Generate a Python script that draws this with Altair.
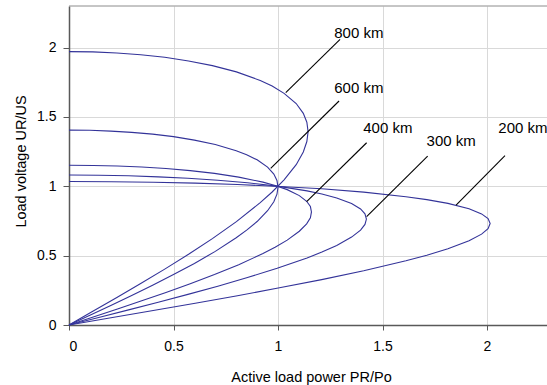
import altair as alt
import pandas as pd

# Receiving-end voltage vs. active load power for lines of different length
# (upper branch from no-load voltage to the nose, then lower branch to the origin)
P_200 = [0, 0.201, 0.403, 0.604, 0.806, 1.007, 1.209, 1.410, 1.612, 1.712, 1.813, 1.914, 1.974, 2.005, 2.015,
         2.005, 1.974, 1.914, 1.813, 1.712, 1.612, 1.410, 1.209, 1.007, 0.806, 0.604, 0.403, 0.201, 0]
U_200 = [1.035, 1.033, 1.029, 1.023, 1.013, 0.999, 0.982, 0.958, 0.925, 0.904, 0.877, 0.838, 0.801, 0.767, 0.732,
         0.694, 0.655, 0.607, 0.550, 0.503, 0.463, 0.391, 0.327, 0.268, 0.211, 0.157, 0.104, 0.052, 0]

P_300 = [0, 0.142, 0.285, 0.427, 0.569, 0.712, 0.854, 0.996, 1.139, 1.210, 1.281, 1.352, 1.395, 1.416, 1.423,
         1.416, 1.395, 1.352, 1.281, 1.210, 1.139, 0.996, 0.854, 0.712, 0.569, 0.427, 0.285, 0.142, 0]
U_300 = [1.081, 1.080, 1.076, 1.068, 1.058, 1.044, 1.026, 1.001, 0.967, 0.944, 0.916, 0.876, 0.837, 0.802, 0.764,
         0.725, 0.684, 0.634, 0.574, 0.526, 0.483, 0.409, 0.342, 0.280, 0.221, 0.164, 0.109, 0.054, 0]

P_400 = [0, 0.116, 0.232, 0.348, 0.464, 0.580, 0.696, 0.812, 0.928, 0.986, 1.044, 1.102, 1.137, 1.155, 1.160,
         1.155, 1.137, 1.102, 1.044, 0.986, 0.928, 0.812, 0.696, 0.580, 0.464, 0.348, 0.232, 0.116, 0]
U_400 = [1.152, 1.150, 1.146, 1.139, 1.128, 1.113, 1.093, 1.066, 1.030, 1.006, 0.976, 0.933, 0.892, 0.854, 0.815,
         0.773, 0.729, 0.676, 0.612, 0.560, 0.515, 0.435, 0.364, 0.298, 0.235, 0.175, 0.116, 0.058, 0]

P_600 = [0, 0.100, 0.200, 0.300, 0.400, 0.500, 0.600, 0.700, 0.800, 0.850, 0.900, 0.950, 0.980, 0.995, 1.000,
         0.995, 0.980, 0.950, 0.900, 0.850, 0.800, 0.700, 0.600, 0.500, 0.400, 0.300, 0.200, 0.100, 0]
U_600 = [1.405, 1.404, 1.398, 1.389, 1.376, 1.358, 1.333, 1.301, 1.257, 1.228, 1.191, 1.138, 1.088, 1.042, 0.994,
         0.943, 0.889, 0.824, 0.746, 0.684, 0.629, 0.531, 0.444, 0.364, 0.287, 0.213, 0.141, 0.070, 0]

P_800 = [0, 0.114, 0.229, 0.343, 0.458, 0.572, 0.686, 0.801, 0.915, 0.972, 1.029, 1.087, 1.121, 1.138, 1.144,
         1.138, 1.121, 1.087, 1.029, 0.972, 0.915, 0.801, 0.686, 0.572, 0.458, 0.343, 0.229, 0.114, 0]
U_800 = [1.971, 1.969, 1.961, 1.949, 1.930, 1.904, 1.870, 1.825, 1.763, 1.723, 1.670, 1.597, 1.526, 1.462, 1.394,
         1.323, 1.248, 1.156, 1.047, 0.959, 0.882, 0.745, 0.623, 0.510, 0.403, 0.299, 0.198, 0.099, 0]

# Line-length labels and their leader lines (label end -> point on curve)
label_text = ["800 km", "600 km", "400 km", "300 km", "200 km"]
label_p = [1.269, 1.269, 1.408, 1.711, 2.054]
label_u = [2.067, 1.671, 1.382, 1.291, 1.382]
lead_p1 = [1.297, 1.292, 1.424, 1.716, 2.086]
lead_u1 = [2.060, 1.615, 1.314, 1.218, 1.221]
lead_p2 = [1.037, 0.965, 1.137, 1.424, 1.852]
lead_u2 = [1.675, 1.130, 0.889, 0.781, 0.865]

tick_values = [0, 0.5, 1, 1.5, 2]

series = {"200 km": (P_200, U_200), "300 km": (P_300, U_300), "400 km": (P_400, U_400),
          "600 km": (P_600, U_600), "800 km": (P_800, U_800)}
rows = []
for name, (ps, us) in series.items():
    for i, (p, u) in enumerate(zip(ps, us)):
        rows.append({"line": name, "idx": i, "p": p, "u": u})
curves_df = pd.DataFrame(rows)

labels_df = pd.DataFrame({"text": label_text, "p": label_p, "u": label_u,
                          "p1": lead_p1, "u1": lead_u1, "p2": lead_p2, "u2": lead_u2})

FONT = "Liberation Sans"
x_scale = alt.Scale(domain=[0, 2.287], nice=False, zero=False)
y_scale = alt.Scale(domain=[0, 2.3], nice=False, zero=False)

x_axis = alt.Axis(values=tick_values, format="~g", title="Active load power PR/Po",
                  titleX=242, titleY=56, titleBaseline="alphabetic", titleAlign="center",
                  labelPadding=9, tickSize=5)
y_axis = alt.Axis(values=tick_values, format="~g", title="Load voltage UR/US",
                  titleX=-44, titleY=155, titleAngle=270, titleBaseline="alphabetic",
                  titleAlign="center", labelPadding=7, tickSize=6)

curves = alt.Chart(curves_df).mark_line(color="#333399", strokeWidth=1.1).encode(
    x=alt.X("p:Q", scale=x_scale, axis=x_axis),
    y=alt.Y("u:Q", scale=y_scale, axis=y_axis),
    detail="line:N",
    order="idx:Q",
)

leaders = alt.Chart(labels_df).mark_rule(color="#000000", strokeWidth=1.1).encode(
    x=alt.X("p1:Q", scale=x_scale), y=alt.Y("u1:Q", scale=y_scale),
    x2="p2:Q", y2="u2:Q",
)

texts = alt.Chart(labels_df).mark_text(
    font=FONT, fontSize=15, color="#000000", align="left", baseline="alphabetic"
).encode(
    x=alt.X("p:Q", scale=x_scale), y=alt.Y("u:Q", scale=y_scale), text="text:N"
)

top_border = alt.Chart(pd.DataFrame({"a": [0]})).mark_rule(color="#8c8c8c", strokeWidth=1).encode(
    x=alt.value(0), x2=alt.value(478), y=alt.value(0)
)

chart = alt.layer(curves, leaders, texts, top_border).properties(
    width=478, height=319,
    background="white",
    padding={"left": 69, "top": 6, "right": 0, "bottom": 60},
    autosize=alt.AutoSizeParams(type="none"),
).configure_view(strokeWidth=0).configure_axis(
    labelFont=FONT, titleFont=FONT, labelFontSize=14, titleFontSize=14.5,
    labelColor="#000000", titleColor="#000000", titleFontWeight="normal",
    gridColor="#d9d9d9", gridWidth=1, domainColor="#595959", domainWidth=1.5,
    tickColor="#595959", tickWidth=1,
)

chart.save("out.html", embed_options={"renderer": "svg", "actions": False})
